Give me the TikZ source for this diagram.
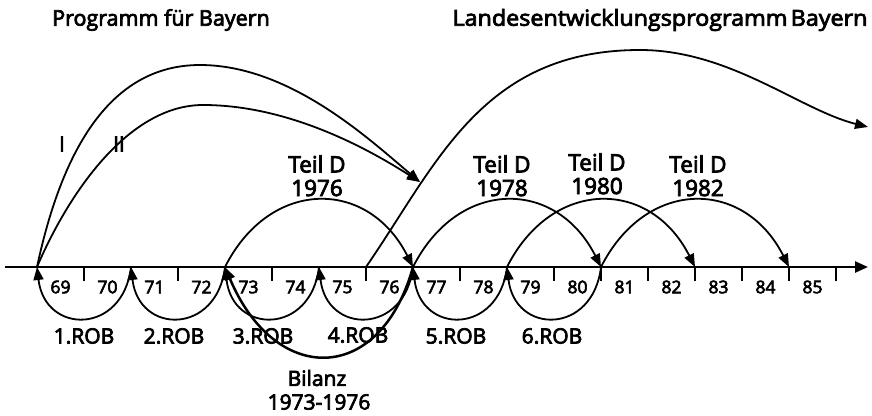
\documentclass[tikz,border=0pt]{standalone}
\usepackage{fontspec}
\setmainfont{Open Sans}
\newfontfamily\semib{Open Sans}[FakeBold=3.5]
\usetikzlibrary{arrows.meta,calc}
\begin{document}
\begin{tikzpicture}[x=1pt,y=-1pt,
  tip/.style={-{Triangle[length=13pt,width=10pt]}},
  arc/.style={line width=1.8pt,tip},
  bil/.style={line width=2.5pt,tip},
  axisline/.style={line width=2.5pt,-{Triangle[length=13pt,width=11pt]}},
  tickmark/.style={line width=1.8pt},
  lbl/.style={font=\semib\fontsize{21}{25}\selectfont,inner sep=0pt,align=center},
  yr/.style={font=\semib\fontsize{17.5}{20}\selectfont,inner sep=0pt},
  ttl/.style={font=\semib\fontsize{21.5}{26}\selectfont,inner sep=0pt},
  tl/.style={font=\semib\fontsize{22.5}{25}\selectfont,inner sep=0pt,align=center}]
\useasboundingbox[fill=white] (0,0) rectangle (872,415);
% titles
\node[ttl] (t1) at (161,20) {Programm für Bayern};
\node[ttl,font=\semib\fontsize{22}{26}\selectfont,xscale=1.06] (t2) at (660,20) {Landesentwicklungsprogramm\hspace{-0.12em} Bayern};
% axis boundaries
\foreach \y [count=\i from 0] in {69,...,86}
  \coordinate (b\y) at ({37+47*\i},267);
\coordinate (axl) at (5,267);
\coordinate (axr) at (868,267);
\draw[axisline] (axl) -- (axr);
\foreach \y in {70,72,74,76,78,80,81,82,83,84,85,86}
  \draw[tickmark] (b\y) -- ++(0,14);
\foreach \y [count=\i from 0] in {69,...,85}
  \node[yr] (y\y) at ({60.5+47*\i},287) {\y};
% ROB arcs (below)
\draw[arc] (b71) .. controls +(-8,68) and +(8,68) .. (b69);
\draw[arc] (b73) .. controls +(-8,68) and +(8,68) .. (b71);
\draw[arc] (b75) .. controls +(-8,68) and +(8,68) .. (b73);
\draw[arc] (b77) .. controls +(-8,68) and +(8,68) .. (b75);
\draw[arc] (b79) .. controls +(-8,68) and +(8,68) .. (b77);
\draw[arc] (b81) .. controls +(-8,68) and +(8,68) .. (b79);
\node[lbl] (r1) at (84,336) {1.ROB};
\node[lbl] (r2) at (174,336) {2.ROB};
\node[lbl] (r3) at (263,336) {3.ROB};
\node[lbl] (r4) at (358,335) {4.ROB};
\node[lbl] (r5) at (456,336) {5.ROB};
\node[lbl] (r6) at (552,336) {6.ROB};
% Bilanz
\draw[bil] (b77) .. controls +(-33,119) and +(50,119) .. (b73);
\node[lbl] (bz) at (317,378) {Bilanz};
\node[lbl] (bz2) at (319,402) {1973-1976};
% Teil D arcs (above)
\draw[arc] (b73) .. controls +(45,-89) and +(-45,-89) .. (b77);
\draw[arc] (b77) .. controls +(45,-89) and +(-45,-89) .. (b81);
\draw[arc] (b79) .. controls +(45,-89) and +(-45,-89) .. (b83);
\draw[arc] (b81) .. controls +(45,-89) and +(-45,-89) .. (b85);
\node[tl] (d76) at (317,164) {Teil D};
\node[tl] (d76b) at (317,188) {1976};
\node[tl] (d78) at (502,164) {Teil D};
\node[tl] (d78b) at (502,188) {1978};
\node[tl] (d80) at (597,162) {Teil D};
\node[tl] (d80b) at (597,186) {1980};
\node[tl] (d82) at (698,164) {Teil D};
\node[tl] (d82b) at (698,188) {1982};
% Programm fuer Bayern I and II
\coordinate (m) at (420,182);
\draw[arc] (b69) .. controls (62,150) and (110,65) .. (200,65)
  .. controls (290,65) and (370,140) .. (m);
\draw[arc] (b69) .. controls (70,190) and (130,105) .. (203,105)
  .. controls (290,105) and (370,150) .. (m);
\node[lbl] (l1) at (62,144) {I};
\node[lbl] (l2) at (119,144) {II};
% Landesentwicklungsprogramm
\coordinate (lep) at (868,127);
\draw[arc] (b76) .. controls (437,164) and (482,50) .. (640,50)
  .. controls (730,50) and (800,110) .. (lep);
\end{tikzpicture}
\end{document}
